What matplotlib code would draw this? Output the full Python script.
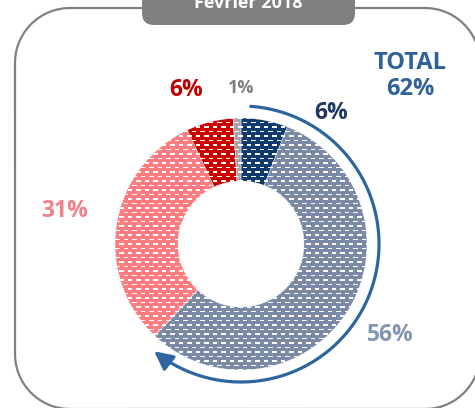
import matplotlib.pyplot as plt
import numpy as np
from matplotlib.patches import FancyBboxPatch, FancyArrowPatch
from matplotlib.path import Path

# slices clockwise from 12 o'clock
labels = ['6%', '56%', '31%', '6%', '1%']
values = [6, 56, 31, 6, 1]
colors = ['#0E3A6E', '#7A8AA6', '#FF7C80', '#CC0000', '#A5A5A5']
label_colors = ['#1F3864', '#8497B0', '#F0838A', '#C00000', '#808080']
label_pos = [(331, 113), (390, 335), (65, 211), (186, 90), (241, 88)]  # image px
label_sizes = [16.5, 16.5, 16.5, 16.5, 13]
title = 'Fevrier 2018'
total_text = 'TOTAL\n62%'

W, H = 475, 408
cx, cy = 241, H - 244
R = 126

plt.rcParams['font.family'] = ['Open Sans', 'DejaVu Sans']

fig = plt.figure(figsize=(4.75, 4.08), dpi=100)
ax = fig.add_axes([0, 0, 1, 1])

wedges, _ = ax.pie(values, colors=colors, startangle=90, counterclock=False,
                   radius=R, center=(cx, cy),
                   wedgeprops=dict(width=R / 2, edgecolor='white', linewidth=0.3))

# white dashed pattern fill (pixel tile), clipped to each slice
rr, cc = np.mgrid[0:H, 0:W]
band = np.floor(rr / 4.5)
in_row = (rr % 4.5) < 1.5
shift = (band % 2) * 4.25
in_dash = ((cc - shift) % 8.5) < 4.3
pattern = np.zeros((H, W, 4))
pattern[..., :3] = 1.0
pattern[..., 3] = (in_row & in_dash).astype(float)
for w in wedges:
    im = ax.imshow(pattern, extent=(0, W, 0, H), origin='upper',
                   interpolation='nearest', zorder=3)
    im.set_clip_path(w)

# curved arrow around the total part
th = np.radians(np.linspace(86, -129, 120))
ra = 138
verts = np.column_stack([cx + ra * np.cos(th), cy + ra * np.sin(th)])
arrow = FancyArrowPatch(path=Path(verts), arrowstyle='-|>,head_length=0.8,head_width=0.4',
                        mutation_scale=14, color='#2E64A0', lw=2.3, zorder=4)
ax.add_patch(arrow)

for lab, col, (x, y), s in zip(labels, label_colors, label_pos, label_sizes):
    ax.text(x, H - y, lab, color=col, fontsize=s, fontweight='bold',
            ha='center', va='center', zorder=5)

ax.text(410, H - 76, total_text, color='#2E6399', fontsize=17, fontweight='bold',
        ha='center', va='center', linespacing=1.15, zorder=5)

# outer rounded frame, drawn as a polyline with circular corners
x0, x1, y0, y1, rc = 15, 480, -1, H - 8, 55
corners = [(x1 - rc, y1 - rc, 0, 90), (x0 + rc, y1 - rc, 90, 180),
           (x0 + rc, y0 + rc, 180, 270), (x1 - rc, y0 + rc, 270, 360)]
fx, fy = [], []
for ccx, ccy, a0, a1 in corners:
    a = np.radians(np.linspace(a0, a1, 40))
    fx.extend(ccx + rc * np.cos(a))
    fy.extend(ccy + rc * np.sin(a))
fx.append(fx[0])
fy.append(fy[0])
ax.plot(fx, fy, color='#808080', lw=1.6, zorder=2)

# title tab
tab = FancyBboxPatch((142, H - 25), 213, 50, boxstyle='round,pad=0,rounding_size=12',
                     fc='#808080', ec='none', zorder=5)
ax.add_patch(tab)
ax.text(248, H - 8, title, color='white', fontsize=13, fontweight='bold',
        ha='center', va='baseline', zorder=6)

ax.set_xlim(0, W)
ax.set_ylim(0, H)
ax.set_aspect('auto')
ax.axis('off')

fig.savefig('out.png', dpi=100)
